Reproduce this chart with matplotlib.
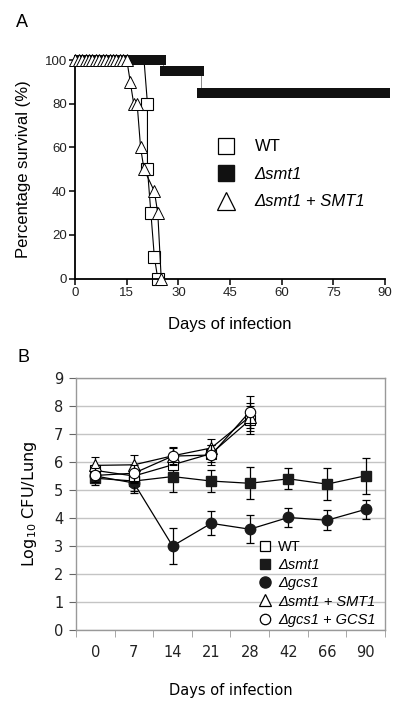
import matplotlib
matplotlib.use('Agg')
import matplotlib.pyplot as plt
from matplotlib.lines import Line2D
import numpy as np

# ---- panel A: survival (%) ----
wt_days = [20, 21, 21, 22, 23, 24]
wt_surv = [100, 80, 50, 30, 10, 0]

# dsmt1: daily points, grouped by survival level
smt1_first = [0, 26, 37]
smt1_last = [25, 36, 90]
smt1_level = [100, 95, 85]

smt1c_days = [0, 1, 2, 3, 4, 5, 6, 7, 8, 9, 10, 11, 12, 13, 14, 15,
              16, 17, 18, 19, 20, 23, 24, 25]
smt1c_surv = [100, 100, 100, 100, 100, 100, 100, 100, 100, 100, 100, 100, 100, 100, 100, 100,
              90, 80, 80, 60, 50, 40, 30, 0]

# ---- panel B: Log10 CFU/Lung ----
days_b = ['0', '7', '14', '21', '28', '42', '66', '90']
wt_cfu = [5.7, 5.5, 5.9, 6.3, 7.5]
wt_err = [0.2, 0.25, 0.2, 0.3, 0.5]
smt1_cfu = [5.42, 5.32, 5.48, 5.32, 5.24, 5.40, 5.21, 5.51]
smt1_err = [0.25, 0.44, 0.55, 0.39, 0.57, 0.37, 0.58, 0.65]
gcs1_cfu = [5.5, 5.25, 3.0, 3.81, 3.6, 4.02, 3.92, 4.31]
gcs1_err = [0.2, 0.3, 0.64, 0.43, 0.5, 0.35, 0.35, 0.33]
smt1c_cfu = [5.88, 5.9, 6.22, 6.5, 7.62]
smt1c_err = [0.3, 0.36, 0.3, 0.33, 0.5]
gcs1c_cfu = [5.52, 5.6, 6.21, 6.25, 7.8]
gcs1c_err = [0.25, 0.3, 0.3, 0.35, 0.57]

fig = plt.figure(figsize=(4, 7.06), dpi=100)

# ================= A =================
fa = 'Liberation Sans'
axA = fig.add_axes([0.188, 0.6052, 0.7742, 0.3098])

axA.plot(wt_days, wt_surv, color='black', lw=0.8, marker='s', ms=8,
         mfc='white', mec='black', mew=0.8, zorder=2, clip_on=False,
         markevery=list(range(1, len(wt_days))))

# dsmt1 band (dense daily square markers look like a thick bar)
half = 1.5
for i in range(len(smt1_level)):
    axA.hlines(smt1_level[i], max(smt1_first[i] - half, -0.3), smt1_last[i] + half,
               color='#111111', lw=7.2, zorder=3, clip_on=False)
    if i > 0:
        xm = (smt1_last[i - 1] + smt1_first[i]) / 2
        axA.vlines(xm, smt1_level[i], smt1_level[i - 1], color='#777777', lw=0.6, zorder=2)

axA.plot(smt1c_days, smt1c_surv, color='black', lw=0.8, marker='^', ms=8.5,
         mfc='white', mec='black', mew=0.7, zorder=4, clip_on=False)

axA.set_xlim(0, 90)
axA.set_ylim(0, 100)
axA.set_xticks([0, 15, 30, 45, 60, 75, 90])
axA.set_yticks([0, 20, 40, 60, 80, 100])
for s in ['top', 'right']:
    axA.spines[s].set_visible(False)
for s in ['left', 'bottom']:
    axA.spines[s].set_linewidth(1.3)
axA.tick_params(direction='out', length=4, width=1.1, labelsize=9.5, pad=2)
for lab in axA.get_xticklabels() + axA.get_yticklabels():
    lab.set_fontfamily(fa)
    lab.set_color('#222222')
axA.set_xlabel('Days of infection', fontsize=12, family=fa, labelpad=13)
axA.set_ylabel('Percentage survival (%)', fontsize=12, family=fa, labelpad=10)

hA = [Line2D([], [], ls='none', marker='s', ms=11, mfc='white', mec='black', mew=0.9),
      Line2D([], [], ls='none', marker='s', ms=11, mfc='#111111', mec='#111111'),
      Line2D([], [], ls='none', marker='^', ms=13, mfc='white', mec='black', mew=0.9)]
legA = axA.legend(hA, ['WT', 'Δsmt1', 'Δsmt1 + SMT1'], loc='upper left',
                  bbox_to_anchor=(0.405, 0.675), frameon=False, borderpad=0,
                  handletextpad=0.75, labelspacing=0.75, prop={'family': fa, 'size': 12})
for t in legA.get_texts()[1:]:
    t.set_fontstyle('italic')

fig.text(0.04, 0.968, 'A', fontsize=13, family=fa, va='center')

# ================= B =================
fb = 'DejaVu Sans'
axB = fig.add_axes([0.19, 0.1076, 0.7725, 0.357])
xb = np.arange(len(days_b))
ek = dict(color='black', lw=0.9, elinewidth=0.9, capsize=2.8, capthick=0.9)

axB.errorbar(xb, gcs1_cfu, yerr=gcs1_err, marker='o', ms=7.5, mfc='#1a1a1a',
             mec='#1a1a1a', zorder=3, **ek)
axB.errorbar(xb, smt1_cfu, yerr=smt1_err, marker='s', ms=7.5, mfc='#1a1a1a',
             mec='#1a1a1a', zorder=4, **ek)
axB.errorbar(xb[:5], wt_cfu, yerr=wt_err, marker='s', ms=7.5, mfc='white',
             mec='black', mew=0.8, zorder=5, **ek)
axB.errorbar(xb[:5], smt1c_cfu, yerr=smt1c_err, marker='^', ms=8, mfc='white',
             mec='black', mew=0.8, zorder=6, **ek)
axB.errorbar(xb[:5], gcs1c_cfu, yerr=gcs1c_err, marker='o', ms=7.5, mfc='white',
             mec='black', mew=0.8, zorder=7, **ek)

axB.set_xlim(-0.5, len(days_b) - 0.5)
axB.set_ylim(0, 9)
axB.set_yticks(range(10))
axB.yaxis.grid(True, color='#c4c4c4', lw=1.0)
axB.set_axisbelow(True)
for s in axB.spines.values():
    s.set_color('#999999')
    s.set_linewidth(1.0)
axB.set_xticks(xb)
axB.set_xticklabels(days_b)
axB.set_xticks(np.arange(len(days_b) + 1) - 0.5, minor=True)
axB.tick_params(axis='x', which='major', length=0, pad=11, labelsize=10.5)
axB.tick_params(axis='x', which='minor', length=5, color='#999999', direction='out')
axB.tick_params(axis='y', length=5, color='#666666', labelsize=10.5, pad=4)
for lab in axB.get_xticklabels() + axB.get_yticklabels():
    lab.set_fontfamily(fb)
    lab.set_color('#222222')
axB.set_xlabel('Days of infection', fontsize=10.5, family=fb, labelpad=16)
axB.set_ylabel('Log$_{10}$ CFU/Lung', fontsize=11.5, family=fb, labelpad=11)

hB = [Line2D([], [], ls='none', marker='s', ms=7.5, mfc='white', mec='black', mew=0.9),
      Line2D([], [], ls='none', marker='s', ms=7.5, mfc='#1a1a1a', mec='#1a1a1a'),
      Line2D([], [], ls='none', marker='o', ms=8, mfc='#1a1a1a', mec='#1a1a1a'),
      Line2D([], [], ls='none', marker='^', ms=8.5, mfc='white', mec='black', mew=0.9),
      Line2D([], [], ls='none', marker='o', ms=7.5, mfc='white', mec='black', mew=0.9)]
legB = axB.legend(hB, ['WT', 'Δsmt1', 'Δgcs1', 'Δsmt1 + SMT1', 'Δgcs1 + GCS1'],
                  loc='upper left', bbox_to_anchor=(0.565, 0.385), frameon=False,
                  borderpad=0, handletextpad=0.4, handlelength=1.0, labelspacing=0.28,
                  prop={'family': 'Liberation Sans', 'size': 10.5})
for t in legB.get_texts()[1:]:
    t.set_fontstyle('italic')

fig.text(0.043, 0.494, 'B', fontsize=13, family=fa, va='center')

fig.savefig('out.png', dpi=100)
